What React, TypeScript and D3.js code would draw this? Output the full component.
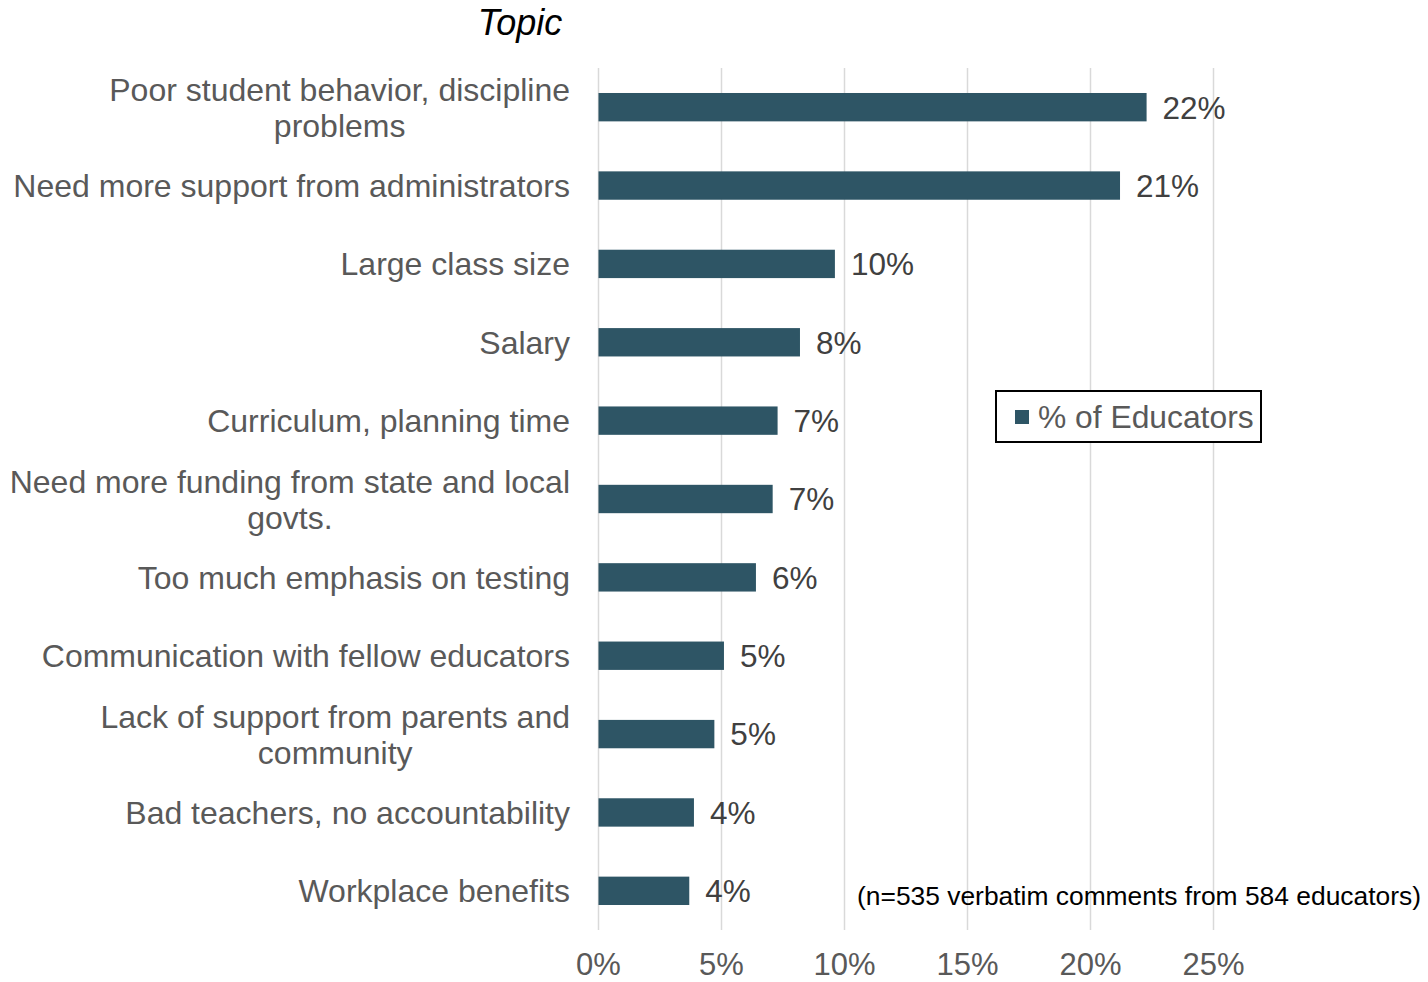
import React, { useEffect, useRef } from "react";
import * as d3 from "d3";

const categories: string[][] = [
  ["Poor student behavior, discipline", "problems"],
  ["Need more support from administrators"],
  ["Large class size"],
  ["Salary"],
  ["Curriculum, planning time"],
  ["Need more funding from state and local", "govts."],
  ["Too much emphasis on testing"],
  ["Communication with fellow educators"],
  ["Lack of support from parents and", "community"],
  ["Bad teachers, no accountability"],
  ["Workplace benefits"],
];
const values: number[] = [22.28, 21.2, 9.61, 8.19, 7.28, 7.08, 6.4, 5.1, 4.71, 3.88, 3.69];
const valueLabels: string[] = ["22%", "21%", "10%", "8%", "7%", "7%", "6%", "5%", "5%", "4%", "4%"];
const xTicks: number[] = [0, 5, 10, 15, 20, 25];
const seriesName = "% of Educators";
const titleText = "Topic";
const noteText = "(n=535 verbatim comments from 584 educators)";

const W = 1428;
const H = 982;
const FONT = "'Liberation Sans', Arial, sans-serif";
const BAR = "#2E5565";

export default function App() {
  const ref = useRef<SVGSVGElement | null>(null);

  useEffect(() => {
    const svg = d3.select(ref.current);
    svg.selectAll("*").remove();

    const x = d3.scaleLinear().domain([0, 25]).range([598.5, 1213.5]);
    const ids = categories.map((_, i) => String(i));
    const y = d3
      .scaleBand<string>()
      .domain(ids)
      .range([68, 930])
      .paddingInner(0.638)
      .paddingOuter(0.319);

    // gridlines
    svg
      .append("g")
      .selectAll("line")
      .data(xTicks)
      .join("line")
      .attr("x1", (d) => x(d))
      .attr("x2", (d) => x(d))
      .attr("y1", 68)
      .attr("y2", 930)
      .attr("stroke", "#d9d9d9")
      .attr("stroke-width", 1.5);

    // bars
    svg
      .append("g")
      .selectAll("rect")
      .data(values)
      .join("rect")
      .attr("x", x(0))
      .attr("y", (_, i) => y(String(i))!)
      .attr("width", (d) => x(d) - x(0))
      .attr("height", y.bandwidth())
      .attr("fill", BAR);

    // value labels
    svg
      .append("g")
      .selectAll("text")
      .data(values)
      .join("text")
      .attr("x", (d) => x(d) + 16)
      .attr("y", (_, i) => y(String(i))! + y.bandwidth() / 2)
      .attr("dy", "0.36em")
      .attr("font-family", FONT)
      .attr("font-size", 31.5)
      .attr("fill", "#404040")
      .text((_, i) => valueLabels[i]);

    // category labels
    const labelRight = 570;
    const lineGap = 36;
    const fs = 32;
    const cg = svg.append("g");
    categories.forEach((lines, i) => {
      const cy = y(String(i))! + y.bandwidth() / 2;
      if (lines.length === 1) {
        cg.append("text")
          .attr("x", labelRight)
          .attr("y", cy)
          .attr("dy", "0.36em")
          .attr("text-anchor", "end")
          .attr("font-family", FONT)
          .attr("font-size", fs)
          .attr("fill", "#595959")
          .text(lines[0]);
      } else {
        const t1 = cg
          .append("text")
          .attr("x", labelRight)
          .attr("y", cy - lineGap / 2)
          .attr("dy", "0.36em")
          .attr("text-anchor", "end")
          .attr("font-family", FONT)
          .attr("font-size", fs)
          .attr("fill", "#595959")
          .text(lines[0]);
        const w = (t1.node() as SVGTextElement).getComputedTextLength();
        const center = labelRight - w / 2;
        cg.append("text")
          .attr("x", center)
          .attr("y", cy + lineGap / 2)
          .attr("dy", "0.36em")
          .attr("text-anchor", "middle")
          .attr("font-family", FONT)
          .attr("font-size", fs)
          .attr("fill", "#595959")
          .text(lines[1]);
      }
    });

    // x tick labels
    svg
      .append("g")
      .selectAll("text")
      .data(xTicks)
      .join("text")
      .attr("x", (d) => x(d))
      .attr("y", 975)
      .attr("text-anchor", "middle")
      .attr("font-family", FONT)
      .attr("font-size", 31)
      .attr("fill", "#595959")
      .text((d) => `${d}%`);

    // title
    svg
      .append("text")
      .attr("x", 520)
      .attr("y", 35)
      .attr("text-anchor", "middle")
      .attr("font-family", FONT)
      .attr("font-style", "italic")
      .attr("font-size", 36)
      .attr("fill", "#000")
      .text(titleText);

    // legend
    const lg = svg.append("g");
    lg.append("rect")
      .attr("x", 996)
      .attr("y", 391)
      .attr("width", 265)
      .attr("height", 51)
      .attr("fill", "#fff")
      .attr("stroke", "#000")
      .attr("stroke-width", 2);
    lg.append("rect")
      .attr("x", 1015)
      .attr("y", 410)
      .attr("width", 14)
      .attr("height", 14)
      .attr("fill", BAR);
    lg.append("text")
      .attr("x", 1038)
      .attr("y", 417)
      .attr("dy", "0.36em")
      .attr("font-family", FONT)
      .attr("font-size", 31.8)
      .attr("fill", "#595959")
      .text(seriesName);

    // note
    svg
      .append("text")
      .attr("x", 857)
      .attr("y", 895)
      .attr("dy", "0.36em")
      .attr("font-family", FONT)
      .attr("font-size", 26.4)
      .attr("fill", "#000")
      .text(noteText);
  }, []);

  return (
    <svg
      ref={ref}
      width={W}
      height={H}
      style={{ position: "absolute", left: 0, top: 0, background: "#fff" }}
    />
  );
}
